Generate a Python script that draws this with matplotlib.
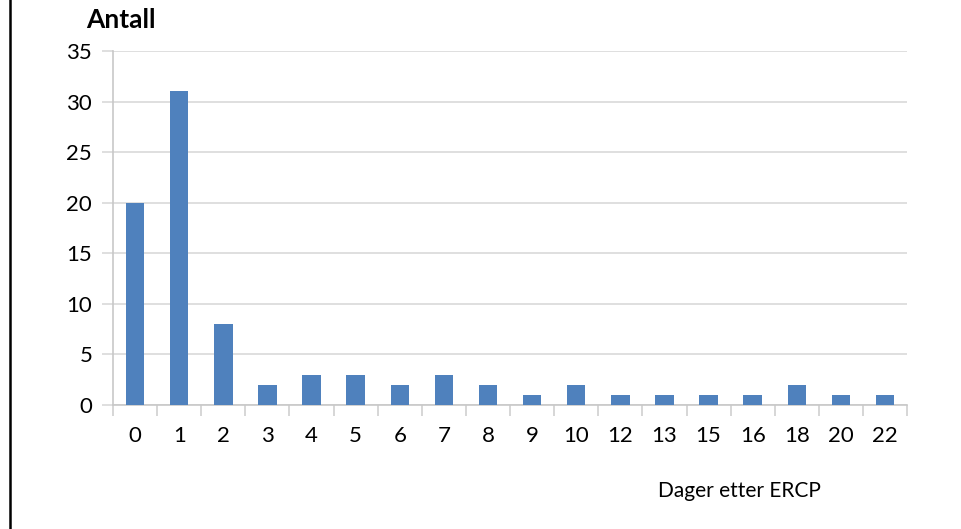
import matplotlib.pyplot as plt
from matplotlib.lines import Line2D

days = ["0", "1", "2", "3", "4", "5", "6", "7", "8", "9", "10",
        "12", "13", "15", "16", "18", "20", "22"]
counts = [20, 31, 8, 2, 3, 3, 2, 3, 2, 1, 2, 1, 1, 1, 1, 2, 1, 1]

plt.rcParams['font.family'] = ['Lato', 'DejaVu Sans']

fig = plt.figure(figsize=(9.62, 5.29), dpi=100)
ax = fig.add_axes([0.1175, 0.2344, 0.8254, 0.6692])

x = list(range(len(days)))
ax.bar(x, counts, width=0.42, color="#4f81bd", zorder=3)

ax.set_xlim(-0.5, len(days) - 0.5)
ax.set_ylim(0, 35)
ax.set_yticks(range(0, 36, 5))
ax.yaxis.grid(True, color="#d9d9d9", linewidth=1.2, zorder=0)

# category labels in the middle, tick marks between the categories
ax.set_xticks(x)
ax.set_xticklabels(days, fontsize=16)
ax.tick_params(axis="x", length=0, pad=15)
ax.set_xticks([i - 0.5 for i in range(len(days) + 1)], minor=True)
ax.tick_params(axis="x", which="minor", length=8, color="#d0d0d0", width=1.2)
ax.tick_params(axis="y", length=8, color="#d9d9d9", width=1.2, labelsize=16, pad=7)

for side in ["top", "right"]:
    ax.spines[side].set_visible(False)
ax.spines["left"].set_color("#c8c8c8")
ax.spines["bottom"].set_color("#c8c8c8")
ax.spines["left"].set_linewidth(1.2)
ax.spines["bottom"].set_linewidth(1.2)

fig.text(0.0895, 0.962, "Antall", fontsize=19, fontweight="bold", va="center", ha="left")
fig.text(0.684, 0.071, "Dager etter ERCP", fontsize=15, va="center", ha="left")

# frame edge on the left
fig.add_artist(Line2D([0.0105, 0.0105], [0, 1], color="black", linewidth=1.8,
                      transform=fig.transFigure))

fig.savefig("out.png", dpi=100)
